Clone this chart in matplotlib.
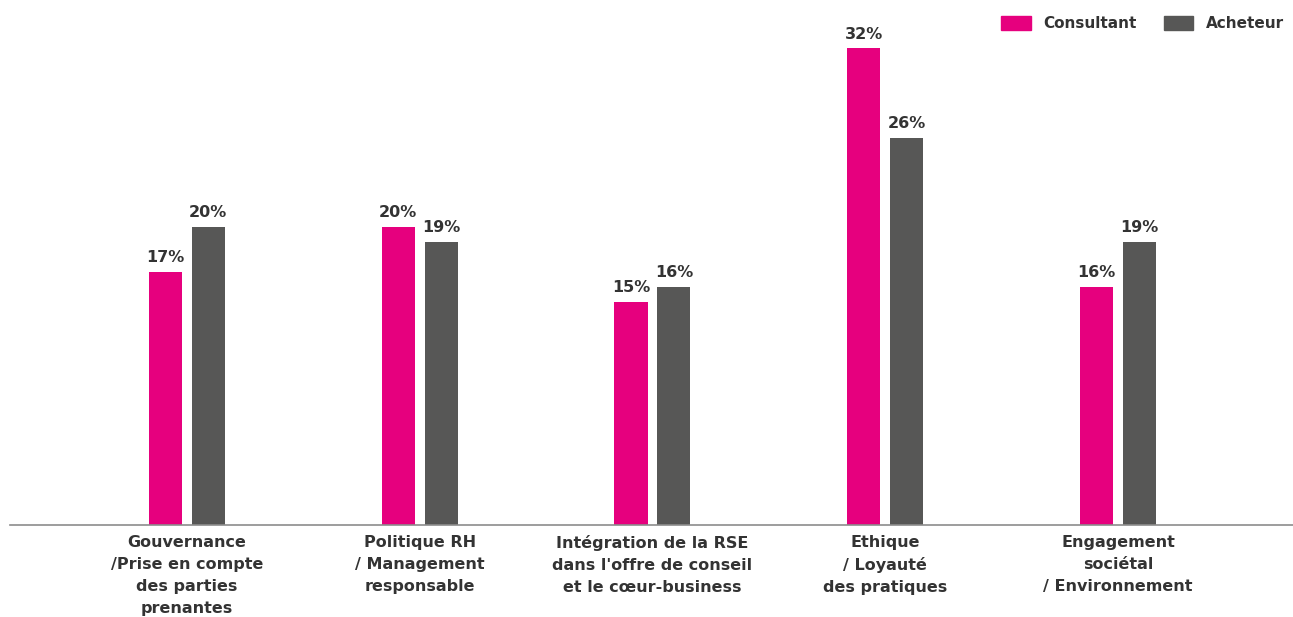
import matplotlib.pyplot as plt
import numpy as np
from matplotlib.patches import Patch

categories = [
    'Gouvernance\n/Prise en compte\ndes parties\nprenantes',
    'Politique RH\n/ Management\nresponsable',
    "Intégration de la RSE\ndans l'offre de conseil\net le cœur-business",
    'Ethique\n/ Loyauté\ndes pratiques',
    'Engagement\nsociétal\n/ Environnement',
]
consultant = [17, 20, 15, 32, 16]
acheteur = [20, 19, 16, 26, 19]

pink = '#e6007e'
grey = '#575756'
text_color = '#333333'
font = 'DejaVu Sans'

fig = plt.figure(figsize=(12.93, 6.17), dpi=100)
ax = fig.add_axes([0.0077, 0.149, 0.9923, 0.851])

x = np.arange(len(categories))
bar_w = 0.142
offset = 0.092
bars_c = ax.bar(x - offset, consultant, width=bar_w, color=pink)
bars_a = ax.bar(x + offset, acheteur, width=bar_w, color=grey)

for bars in (bars_c, bars_a):
    for bar in bars:
        h = bar.get_height()
        ax.text(bar.get_x() + bar.get_width() / 2, h + 0.45, '{:d}%'.format(int(h)),
                ha='center', va='bottom', fontsize=11.5, fontweight='bold',
                color=text_color, family=font)

ax.set_xlim(-0.76, 4.752)
ax.set_ylim(0, 35.25)
ax.set_xticks(x)
ax.set_xticklabels(categories, fontsize=11.5, fontweight='bold', color=text_color,
                   family=font, linespacing=1.58)
ax.tick_params(axis='x', length=0, pad=7)
ax.set_yticks([])
for side in ('top', 'right', 'left'):
    ax.spines[side].set_visible(False)
ax.spines['bottom'].set_color('#8c8c8c')
ax.spines['bottom'].set_linewidth(1.2)

handles = [Patch(color=pink, label='Consultant'), Patch(color=grey, label='Acheteur')]
leg = fig.legend(handles=handles, loc='upper right', bbox_to_anchor=(1.0, 0.989), ncol=2,
                 frameon=False, handlelength=1.95, handleheight=1.0, columnspacing=1.8,
                 handletextpad=0.8, borderaxespad=0.2,
                 prop={'family': font, 'weight': 'bold', 'size': 11})
for t in leg.get_texts():
    t.set_color(text_color)

fig.savefig('out.png', dpi=100)
